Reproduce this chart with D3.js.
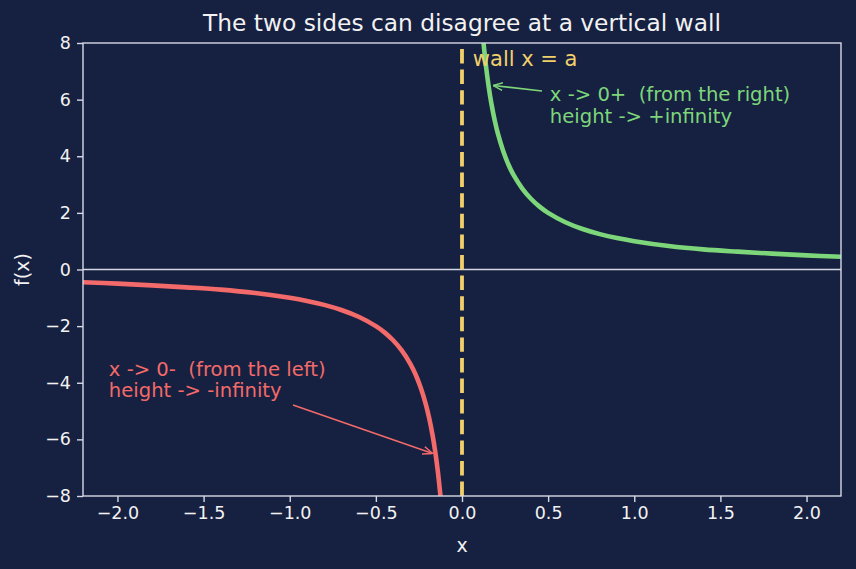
<!DOCTYPE html>
<html>
<head>
<meta charset="utf-8">
<script src="https://cdn.jsdelivr.net/npm/d3@7"></script>
<style>
  body { margin: 0; background: #162040; }
  text { font-family: "DejaVu Sans", sans-serif; white-space: pre; }
</style>
</head>
<body>
<div id="viz"></div>
<script>
// values
var xTicks = [-2.0, -1.5, -1.0, -0.5, 0.0, 0.5, 1.0, 1.5, 2.0];
var yTicks = [-8, -6, -4, -2, 0, 2, 4, 6, 8];

var leftX = [-2.2, -2.0, -1.8, -1.6, -1.4, -1.2, -1.0, -0.9, -0.8, -0.7, -0.6, -0.5, -0.45, -0.4, -0.35, -0.3, -0.27, -0.24, -0.21, -0.19, -0.17, -0.155, -0.14, -0.125];
var leftY = [-0.45, -0.5, -0.56, -0.63, -0.71, -0.83, -1.0, -1.11, -1.25, -1.43, -1.67, -2.0, -2.22, -2.5, -2.86, -3.33, -3.7, -4.17, -4.76, -5.26, -5.88, -6.45, -7.14, -8.0];

var rightX = [0.125, 0.14, 0.155, 0.17, 0.19, 0.21, 0.24, 0.27, 0.3, 0.35, 0.4, 0.45, 0.5, 0.6, 0.7, 0.8, 0.9, 1.0, 1.2, 1.4, 1.6, 1.8, 2.0, 2.2];
var rightY = [8.0, 7.14, 6.45, 5.88, 5.26, 4.76, 4.17, 3.7, 3.33, 2.86, 2.5, 2.22, 2.0, 1.67, 1.43, 1.25, 1.11, 1.0, 0.83, 0.71, 0.63, 0.56, 0.5, 0.45];

var width = 856, height = 569;
var margin = {top: 43, right: 15, bottom: 73, left: 83};

var bg = "#162040", fg = "#f2f2f2", spine = "#d6dae6";
var red = "#f26a6a", green = "#7dd67a", yellow = "#f1cf6b";

var svg = d3.select("#viz").append("svg")
    .attr("width", width)
    .attr("height", height)
    .style("background", bg);

var x = d3.scaleLinear().domain([-2.2, 2.2]).range([margin.left, width - margin.right]);
var y = d3.scaleLinear().domain([-8, 8]).range([height - margin.bottom, margin.top]);

svg.append("clipPath").attr("id", "clip")
  .append("rect")
    .attr("x", margin.left).attr("y", margin.top)
    .attr("width", x.range()[1] - x.range()[0])
    .attr("height", y.range()[0] - y.range()[1]);

var plot = svg.append("g").attr("clip-path", "url(#clip)");

// zero line
plot.append("line")
    .attr("x1", x(-2.2)).attr("x2", x(2.2))
    .attr("y1", y(0)).attr("y2", y(0))
    .style("stroke", spine).style("stroke-width", 1.5);

var line = d3.line().curve(d3.curveCatmullRom)
    .x(function(d){ return x(d[0]); })
    .y(function(d){ return y(d[1]); });

plot.append("path")
    .datum(d3.zip(leftX, leftY))
    .attr("d", line)
    .style("fill", "none").style("stroke", red).style("stroke-width", 4.6);

plot.append("path")
    .datum(d3.zip(rightX, rightY))
    .attr("d", line)
    .style("fill", "none").style("stroke", green).style("stroke-width", 4.6);

// the wall (drawn bottom to top)
plot.append("line")
    .attr("x1", x(0)).attr("x2", x(0))
    .attr("y1", y(-8)).attr("y2", y(8))
    .style("stroke", yellow).style("stroke-width", 3.8)
    .style("stroke-dasharray", "14.4,6.2");

// axes
var xAxis = d3.axisBottom(x).tickValues(xTicks).tickSize(6).tickPadding(5)
    .tickFormat(function(d){ return d3.format(".1f")(d).replace("-", "\u2212"); });
var yAxis = d3.axisLeft(y).tickValues(yTicks).tickSize(6).tickPadding(6)
    .tickFormat(function(d){ return String(d).replace("-", "\u2212"); });

var gx = svg.append("g").attr("transform", "translate(0," + y(-8) + ")").call(xAxis);
var gy = svg.append("g").attr("transform", "translate(" + x(-2.2) + ",0)").call(yAxis);
[gx, gy].forEach(function(g){
    g.select(".domain").remove();
    g.selectAll("line").style("stroke", spine).style("stroke-width", 1.4);
    g.selectAll("text").style("fill", fg).style("font-size", "17.5px")
        .style("font-family", "DejaVu Sans, sans-serif");
});

// frame
svg.append("rect")
    .attr("x", x(-2.2)).attr("y", y(8))
    .attr("width", x(2.2) - x(-2.2))
    .attr("height", y(-8) - y(8))
    .style("fill", "none").style("stroke", spine).style("stroke-width", 1.4);

// labels
svg.append("text")
    .attr("x", (x(-2.2) + x(2.2)) / 2).attr("y", 31)
    .attr("text-anchor", "middle")
    .style("fill", fg).style("font-size", "23.3px")
    .text("The two sides can disagree at a vertical wall");

svg.append("text")
    .attr("x", (x(-2.2) + x(2.2)) / 2).attr("y", 552)
    .attr("text-anchor", "middle")
    .style("fill", fg).style("font-size", "19px")
    .text("x");

svg.append("text")
    .attr("transform", "translate(29," + y(0) + ") rotate(-90)")
    .attr("text-anchor", "middle")
    .style("fill", fg).style("font-size", "19px")
    .text("f(x)");

// annotations
svg.append("text")
    .attr("x", x(0.063)).attr("y", 66)
    .style("fill", yellow).style("font-size", "21px")
    .text("wall x = a");

var defs = svg.append("defs");
function marker(id, col){
    defs.append("marker").attr("id", id)
        .attr("viewBox", "0 0 10 10").attr("refX", 10).attr("refY", 5)
        .attr("markerWidth", 10).attr("markerHeight", 10)
        .attr("markerUnits", "userSpaceOnUse")
        .attr("orient", "auto")
      .append("path").attr("d", "M0,1 L10,5 L0,9")
        .style("fill", "none").style("stroke", col).style("stroke-width", 1.5);
}
marker("ag", green);
marker("ar", red);

svg.append("line")
    .attr("x1", 542).attr("y1", 91)
    .attr("x2", x(0.18)).attr("y2", y(6.5))
    .style("stroke", green).style("stroke-width", 1.6)
    .attr("marker-end", "url(#ag)");

var gt = svg.append("text").style("fill", green).style("font-size", "19.6px");
gt.append("tspan").attr("x", x(0.51)).attr("y", 101).text("x -> 0+  (from the right)");
gt.append("tspan").attr("x", x(0.51)).attr("y", 123).text("height -> +infinity");

svg.append("line")
    .attr("x1", 293).attr("y1", 405)
    .attr("x2", x(-0.17)).attr("y2", y(-6.5))
    .style("stroke", red).style("stroke-width", 1.6)
    .attr("marker-end", "url(#ar)");

var rt = svg.append("text").style("fill", red).style("font-size", "19.6px");
rt.append("tspan").attr("x", x(-2.05)).attr("y", 376).text("x -> 0-  (from the left)");
rt.append("tspan").attr("x", x(-2.05)).attr("y", 397).text("height -> -infinity");
</script>
</body>
</html>
